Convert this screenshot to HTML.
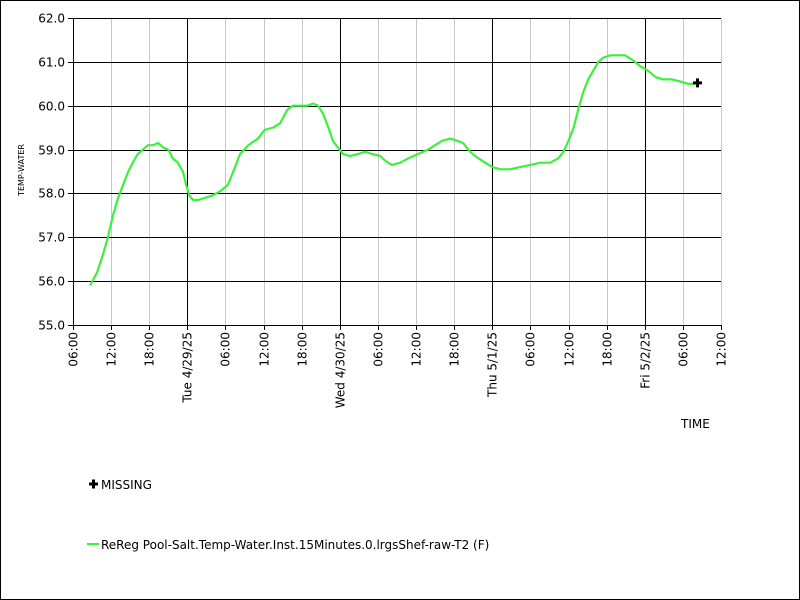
<!DOCTYPE html>
<html><head><meta charset="utf-8"><style>
html,body{margin:0;padding:0;background:#fff}
svg{display:block;font-family:"DejaVu Sans","Liberation Sans",sans-serif}
</style></head><body>
<svg id="chart" width="800" height="600" viewBox="0 0 800 600">
<rect x="0.5" y="0.5" width="799" height="599" fill="#fff" stroke="#000"/>
<g id="grid"></g>
<g id="axes"></g>
<g id="series"></g>
<text x="24" y="170" font-size="8" transform="rotate(-90 24 170)" text-anchor="middle">TEMP-WATER</text>
<text x="681" y="428" font-size="12">TIME</text>
<g>
<path d="M89 484h9M93.5 479.5v9" stroke="#000" stroke-width="3"/>
<text x="101" y="489" font-size="12">MISSING</text>
</g>
<g>
<line x1="87" y1="544" x2="99" y2="544" stroke="#3cf03c" stroke-width="2"/>
<text x="101" y="549" font-size="12">ReReg Pool-Salt.Temp-Water.Inst.15Minutes.0.lrgsShef-raw-T2 (F)</text>
</g>
</svg>
<script>
const yTicks = [55,56,57,58,59,60,61,62];
const xTickLabels = ["06:00","12:00","18:00","Tue 4/29/25","06:00","12:00","18:00","Wed 4/30/25","06:00","12:00","18:00","Thu 5/1/25","06:00","12:00","18:00","Fri 5/2/25","06:00","12:00"];
const xTickMajor = [0,0,0,1,0,0,0,1,0,0,0,1,0,0,0,1,0,0];
const hours = [2.7,3.8,4.7,5.5,6.3,7.1,7.9,8.7,9.4,10.2,11.0,11.8,12.6,13.4,14.2,15.0,15.7,16.5,17.3,17.8,18.3,18.9,19.7,20.8,21.9,23.2,24.4,25.5,26.3,27.6,29.1,30.2,31.5,32.6,33.7,34.6,35.8,36.9,37.8,38.6,39.4,40.2,40.9,41.7,42.5,43.6,44.9,46.0,47.1,48.4,49.1,50.2,51.5,52.8,54.3,55.9,57.0,58.1,59.4,60.5,61.4,62.5,63.8,64.9,66.0,67.3,68.8,70.4,72.0,73.6,75.1,76.4,77.2,78.0,78.8,79.5,80.3,81.1,81.9,82.7,83.5,84.6,85.8,86.9,88.0,89.3,90.5,91.7,92.9,94.3,95.6,96.8,97.9];
const temps = [55.9,56.2,56.6,57.0,57.5,57.9,58.2,58.5,58.7,58.9,59.0,59.1,59.1,59.15,59.05,59.0,58.8,58.7,58.5,58.2,57.95,57.85,57.85,57.9,57.95,58.05,58.2,58.6,58.9,59.1,59.25,59.45,59.5,59.6,59.9,60.0,60.0,60.0,60.05,60.0,59.8,59.5,59.2,59.05,58.9,58.85,58.9,58.95,58.9,58.85,58.75,58.65,58.7,58.8,58.9,59.0,59.1,59.2,59.25,59.2,59.15,58.95,58.8,58.7,58.6,58.55,58.55,58.6,58.65,58.7,58.7,58.8,58.95,59.2,59.5,59.9,60.3,60.6,60.8,61.0,61.1,61.15,61.15,61.15,61.05,60.9,60.8,60.65,60.6,60.6,60.55,60.5,60.5];
const missingHours = [98.3];
const missingTemps = [60.52];

const L=73,R=721,T=18,B=325,NS="http://www.w3.org/2000/svg";
const yMin=55,yMax=62,xMax=102;
function sx(h){return L+(R-L)*h/xMax;}
function sy(v){return B-(B-T)*(v-yMin)/(yMax-yMin);}
function mk(tag,attrs,parent){const e=document.createElementNS(NS,tag);for(const k in attrs)e.setAttribute(k,attrs[k]);parent.appendChild(e);return e;}
const grid=document.getElementById('grid'),axes=document.getElementById('axes'),series=document.getElementById('series');
xTickLabels.forEach((lab,i)=>{
  const x=Math.round(sx(i*6))+0.5;
  if(i>0){const g=mk('line',{x1:x,y1:T,x2:x,y2:B,stroke:xTickMajor[i]?'#000':'#c8c8c8'},grid);
  
  }
  const t=mk('line',{x1:x,y1:B,x2:x,y2:B+5,stroke:'#000'},axes);
  
  
  const tx=mk('text',{x:x+4,y:B+7,'font-size':12,'text-anchor':'end',transform:`rotate(-90 ${x+4} ${B+7})`},axes);
  tx.textContent=lab;
  
  
});
yTicks.forEach(v=>{
  const y=Math.round(sy(v))+0.5;
  const g=mk('line',{x1:L,y1:y,x2:R,y2:y,stroke:'#000'},grid);
  
  
  const t=mk('line',{x1:L-5,y1:y,x2:L,y2:y,stroke:'#000'},axes);
  
  
  const tx=mk('text',{x:L-8,y:y+4,'font-size':12,'text-anchor':'end'},axes);
  tx.textContent=v.toFixed(1);
  
  
});
const ax=mk('line',{x1:L+0.5,y1:T,x2:L+0.5,y2:B,stroke:'#000'},axes);


const d=hours.map((h,i)=>(i?'L':'M')+sx(h).toFixed(1)+' '+sy(temps[i]).toFixed(1)).join('');
const p=mk('path',{d:d,fill:'none',stroke:'#3cf03c','stroke-width':2.2,'stroke-linejoin':'round'},series);


missingHours.forEach((h,i)=>{
  const x=sx(h),y=sy(missingTemps[i]);
  const m=mk('path',{d:`M${x-4.5} ${y}h9M${x} ${y-4.5}v9`,stroke:'#000','stroke-width':3},series);
  
  
});
</script>
</body></html>
